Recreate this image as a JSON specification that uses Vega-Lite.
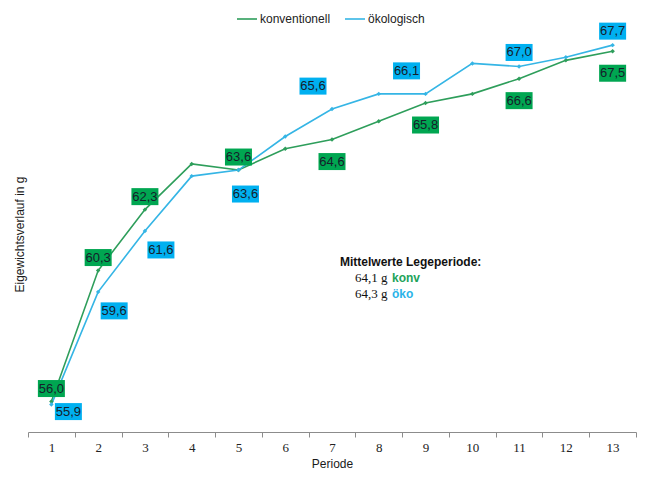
{
  "$schema": "https://vega.github.io/schema/vega-lite/v6.json",
  "width": 608,
  "height": 396,
  "autosize": "none",
  "padding": {"left": 28, "top": 36, "right": 10, "bottom": 52},
  "config": {
    "view": {"stroke": null},
    "locale": {"number": {"decimal": ",", "thousands": ".", "grouping": [3], "currency": ["", " €"]}},
    "font": "Liberation Sans Narrow, Liberation Sans, sans-serif"
  },
  "datasets": {
    "weights": [
      {"period": 1, "series": "konventionell", "value": 56.0},
      {"period": 2, "series": "konventionell", "value": 60.3},
      {"period": 3, "series": "konventionell", "value": 62.3},
      {"period": 4, "series": "konventionell", "value": 63.8},
      {"period": 5, "series": "konventionell", "value": 63.6},
      {"period": 6, "series": "konventionell", "value": 64.3},
      {"period": 7, "series": "konventionell", "value": 64.6},
      {"period": 8, "series": "konventionell", "value": 65.2},
      {"period": 9, "series": "konventionell", "value": 65.8},
      {"period": 10, "series": "konventionell", "value": 66.1},
      {"period": 11, "series": "konventionell", "value": 66.6},
      {"period": 12, "series": "konventionell", "value": 67.2},
      {"period": 13, "series": "konventionell", "value": 67.5},
      {"period": 1, "series": "ökologisch", "value": 55.9},
      {"period": 2, "series": "ökologisch", "value": 59.6},
      {"period": 3, "series": "ökologisch", "value": 61.6},
      {"period": 4, "series": "ökologisch", "value": 63.4},
      {"period": 5, "series": "ökologisch", "value": 63.6},
      {"period": 6, "series": "ökologisch", "value": 64.7},
      {"period": 7, "series": "ökologisch", "value": 65.6},
      {"period": 8, "series": "ökologisch", "value": 66.1},
      {"period": 9, "series": "ökologisch", "value": 66.1},
      {"period": 10, "series": "ökologisch", "value": 67.1},
      {"period": 11, "series": "ökologisch", "value": 67.0},
      {"period": 12, "series": "ökologisch", "value": 67.3},
      {"period": 13, "series": "ökologisch", "value": 67.7}
    ],
    "notes": [
      {"period": 7, "value": 60.58, "kind": "heading", "text": "Mittelwerte Legeperiode:"},
      {"period": 7, "value": 60.06, "kind": "mean", "text": "64,1 g"},
      {"period": 7, "value": 59.53, "kind": "mean", "text": "64,3 g"},
      {"period": 7, "value": 60.06, "kind": "konv", "text": "konv"},
      {"period": 7, "value": 59.53, "kind": "oko", "text": "öko"}
    ]
  },
  "encoding": {
    "x": {
      "field": "period",
      "type": "ordinal",
      "bandPosition": 0.5,
      "scale": {"type": "band", "paddingInner": 0, "paddingOuter": 0, "domain": [1,2,3,4,5,6,7,8,9,10,11,12,13]},
      "axis": {
        "title": "Periode",
        "tickBand": "extent",
        "labelAngle": 0,
        "grid": false,
        "domainColor": "#8c8c8c",
        "tickColor": "#8c8c8c",
        "tickSize": 5,
        "labelFont": "Liberation Serif",
        "labelFontSize": 13,
        "labelColor": "#222222",
        "labelPadding": 4,
        "titleFont": "Liberation Sans Narrow, Liberation Sans, sans-serif",
        "titleFontSize": 12,
        "titleFontWeight": "normal",
        "titleColor": "#1a1a1a",
        "titlePadding": 4
      }
    },
    "y": {
      "field": "value",
      "type": "quantitative",
      "scale": {"domain": [55, 68], "nice": false, "zero": false},
      "axis": {
        "title": "Eigewichtsverlauf in g",
        "labels": false,
        "ticks": false,
        "domain": false,
        "grid": false,
        "titleFont": "Liberation Sans Narrow, Liberation Sans, sans-serif",
        "titleFontSize": 12,
        "titleFontWeight": "normal",
        "titleColor": "#1a1a1a",
        "titlePadding": 2
      }
    }
  },
  "layer": [
    {
      "data": {"name": "weights"},
      "mark": {"type": "line", "strokeWidth": 1.6, "point": {"filled": true, "shape": "diamond", "size": 20}},
      "encoding": {
        "color": {
          "field": "series",
          "type": "nominal",
          "scale": {"domain": ["konventionell", "ökologisch"], "range": ["#2E9E5B", "#35B5E5"]},
          "legend": {
            "title": null,
            "orient": "none",
            "legendX": 208,
            "legendY": -28,
            "direction": "horizontal",
            "symbolType": "stroke",
            "symbolSize": 400,
            "symbolStrokeWidth": 1.6,
            "labelFontSize": 12,
            "labelColor": "#222222",
            "labelOffset": 2,
            "columnPadding": 10
          }
        }
      }
    },
    {
      "data": {"name": "weights"},
      "transform": [{"filter": {"and": [{"field": "series", "equal": "konventionell"}, {"field": "period", "oneOf": [1, 2, 3, 5]}]}}],
      "layer": [
        {"mark": {"type": "point", "shape": "M-1,-0.63L1,-0.63L1,0.63L-1,0.63Z", "size": 729, "filled": true, "opacity": 1, "color": "#00A651", "yOffset": -13}},
        {"mark": {"type": "text", "fontSize": 13, "color": "#15202b", "yOffset": -13}, "encoding": {"text": {"field": "value", "type": "quantitative", "format": ".1f"}}}
      ]
    },
    {
      "data": {"name": "weights"},
      "transform": [{"filter": {"and": [{"field": "series", "equal": "konventionell"}, {"field": "period", "oneOf": [7, 9, 11, 13]}]}}],
      "layer": [
        {"mark": {"type": "point", "shape": "M-1,-0.63L1,-0.63L1,0.63L-1,0.63Z", "size": 729, "filled": true, "opacity": 1, "color": "#00A651", "yOffset": 22}},
        {"mark": {"type": "text", "fontSize": 13, "color": "#15202b", "yOffset": 22}, "encoding": {"text": {"field": "value", "type": "quantitative", "format": ".1f"}}}
      ]
    },
    {
      "data": {"name": "weights"},
      "transform": [{"filter": {"and": [{"field": "series", "equal": "ökologisch"}, {"field": "period", "oneOf": [1]}]}}],
      "layer": [
        {"mark": {"type": "point", "shape": "M-1,-0.63L1,-0.63L1,0.63L-1,0.63Z", "size": 729, "filled": true, "opacity": 1, "color": "#00B0F0", "xOffset": 17, "yOffset": 7}},
        {"mark": {"type": "text", "fontSize": 13, "color": "#15202b", "xOffset": 17, "yOffset": 7}, "encoding": {"text": {"field": "value", "type": "quantitative", "format": ".1f"}}}
      ]
    },
    {
      "data": {"name": "weights"},
      "transform": [{"filter": {"and": [{"field": "series", "equal": "ökologisch"}, {"field": "period", "oneOf": [2, 3]}]}}],
      "layer": [
        {"mark": {"type": "point", "shape": "M-1,-0.63L1,-0.63L1,0.63L-1,0.63Z", "size": 729, "filled": true, "opacity": 1, "color": "#00B0F0", "xOffset": 16, "yOffset": 19}},
        {"mark": {"type": "text", "fontSize": 13, "color": "#15202b", "xOffset": 16, "yOffset": 19}, "encoding": {"text": {"field": "value", "type": "quantitative", "format": ".1f"}}}
      ]
    },
    {
      "data": {"name": "weights"},
      "transform": [{"filter": {"and": [{"field": "series", "equal": "ökologisch"}, {"field": "period", "oneOf": [5]}]}}],
      "layer": [
        {"mark": {"type": "point", "shape": "M-1,-0.63L1,-0.63L1,0.63L-1,0.63Z", "size": 729, "filled": true, "opacity": 1, "color": "#00B0F0", "xOffset": 7, "yOffset": 24}},
        {"mark": {"type": "text", "fontSize": 13, "color": "#15202b", "xOffset": 7, "yOffset": 24}, "encoding": {"text": {"field": "value", "type": "quantitative", "format": ".1f"}}}
      ]
    },
    {
      "data": {"name": "weights"},
      "transform": [{"filter": {"and": [{"field": "series", "equal": "ökologisch"}, {"field": "period", "oneOf": [7, 9]}]}}],
      "layer": [
        {"mark": {"type": "point", "shape": "M-1,-0.63L1,-0.63L1,0.63L-1,0.63Z", "size": 729, "filled": true, "opacity": 1, "color": "#00B0F0", "xOffset": -19, "yOffset": -23}},
        {"mark": {"type": "text", "fontSize": 13, "color": "#15202b", "xOffset": -19, "yOffset": -23}, "encoding": {"text": {"field": "value", "type": "quantitative", "format": ".1f"}}}
      ]
    },
    {
      "data": {"name": "weights"},
      "transform": [{"filter": {"and": [{"field": "series", "equal": "ökologisch"}, {"field": "period", "oneOf": [11, 13]}]}}],
      "layer": [
        {"mark": {"type": "point", "shape": "M-1,-0.63L1,-0.63L1,0.63L-1,0.63Z", "size": 729, "filled": true, "opacity": 1, "color": "#00B0F0", "yOffset": -14}},
        {"mark": {"type": "text", "fontSize": 13, "color": "#15202b", "yOffset": -14}, "encoding": {"text": {"field": "value", "type": "quantitative", "format": ".1f"}}}
      ]
    },
    {
      "data": {"name": "notes"},
      "transform": [{"filter": {"field": "kind", "equal": "heading"}}],
      "mark": {"type": "text", "align": "left", "baseline": "middle", "fontSize": 12, "fontWeight": "bold", "color": "#111111", "xOffset": 8},
      "encoding": {"text": {"field": "text"}}
    },
    {
      "data": {"name": "notes"},
      "transform": [{"filter": {"field": "kind", "equal": "mean"}}],
      "mark": {"type": "text", "align": "left", "baseline": "middle", "font": "Liberation Serif", "fontSize": 13, "color": "#111111", "xOffset": 23},
      "encoding": {"text": {"field": "text"}}
    },
    {
      "data": {"name": "notes"},
      "transform": [{"filter": {"field": "kind", "equal": "konv"}}],
      "mark": {"type": "text", "align": "left", "baseline": "middle", "fontSize": 12, "fontWeight": "bold", "color": "#22A35A", "xOffset": 60},
      "encoding": {"text": {"field": "text"}}
    },
    {
      "data": {"name": "notes"},
      "transform": [{"filter": {"field": "kind", "equal": "oko"}}],
      "mark": {"type": "text", "align": "left", "baseline": "middle", "fontSize": 12, "fontWeight": "bold", "color": "#2BB3E8", "xOffset": 60},
      "encoding": {"text": {"field": "text"}}
    }
  ]
}
